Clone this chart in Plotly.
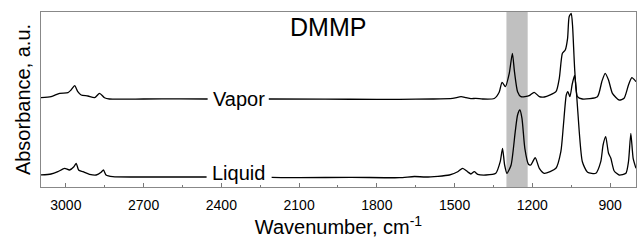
import plotly.graph_objects as go

# Wavenumbers (cm-1) and displayed absorbance (a.u., offset traces)
vapor_wn = [3100, 3057, 3024, 2992, 2980, 2966, 2954, 2941, 2915, 2889, 2870, 2851, 2832, 2700, 2560, 2453,
            None,
            2217, 2000, 1800, 1713, 1585, 1508, 1475, 1456, 1437, 1418, 1392, 1347, 1328, 1317, 1304, 1289,
            1277, 1269, 1257, 1244, 1212, 1193, 1173, 1154, 1109, 1096, 1084, 1073, 1064, 1058, 1050, 1045,
            1036, 1026, 1007, 949, 932, 919, 906, 891, 865, 846, 829, 816, 800]
vapor_abs = [0.893, 0.903, 0.937, 0.943, 0.97, 1.013, 0.953, 0.92, 0.91, 0.893, 0.937, 0.893, 0.88, 0.88, 0.882, 0.88,
             None,
             0.88, 0.878, 0.877, 0.877, 0.88, 0.887, 0.903, 0.893, 0.883, 0.887, 0.88, 0.885, 0.947, 1.047, 1.003, 1.137,
             1.337, 1.153, 0.953, 0.903, 0.913, 0.947, 0.903, 0.90, 0.953, 1.087, 1.337, 1.37, 1.487, 1.703, 1.737, 1.62,
             1.153, 0.903, 0.88, 0.903, 1.053, 1.137, 1.07, 0.937, 0.87, 0.887, 1.02, 1.093, 1.053]

liquid_wn = [3100, 3057, 3031, 3005, 2986, 2969, 2960, 2951, 2934, 2909, 2883, 2864, 2855, 2845, 2819, 2700, 2550, 2457,
             None,
             2206, 2100, 1900, 1713, 1655, 1610, 1520, 1488, 1469, 1450, 1437, 1424, 1411, 1379, 1341, 1324, 1315,
             1307, 1298, 1282, 1266, 1257, 1248, 1240, 1229, 1215, 1206, 1189, 1173, 1154, 1109, 1090, 1080, 1069,
             1063, 1055, 1046, 1037, 1030, 1019, 1007, 987, 955, 936, 927, 917, 906, 897, 884, 865, 839, 829, 820,
             811, 800]
liquid_abs = [0.12, 0.13, 0.153, 0.187, 0.17, 0.203, 0.237, 0.17, 0.153, 0.127, 0.12, 0.147, 0.17, 0.12, 0.103, 0.10, 0.10, 0.10,
              None,
              0.097, 0.093, 0.097, 0.093, 0.105, 0.100, 0.12, 0.153, 0.187, 0.153, 0.13, 0.153, 0.127, 0.12, 0.137, 0.253, 0.387,
              0.22, 0.137, 0.22, 0.553, 0.72, 0.77, 0.687, 0.387, 0.227, 0.22, 0.293, 0.187, 0.137, 0.187, 0.353, 0.62, 0.92,
              0.953, 0.903, 1.03, 1.115, 0.953, 0.553, 0.253, 0.147, 0.137, 0.253, 0.42, 0.503, 0.337, 0.287, 0.16, 0.12, 0.137, 0.253, 0.537,
              0.287, 0.187]

tick_vals = [3000, 2700, 2400, 2100, 1800, 1500, 1200, 900]
tick_text = ["3000", "2700", "2400", "2100", "1800", "1500", "1200", "900"]
minor_vals = [2850, 2550, 2250, 1950, 1650, 1350, 1050]
band_range = [1300, 1218]
series_names = ["Vapor", "Liquid"]
label_pos = [(2333, 0.885), (2333, 0.145)]

FONT = "Liberation Sans, Arial, sans-serif"

fig = go.Figure()
for wn, ab, name in [(vapor_wn, vapor_abs, "Vapor"), (liquid_wn, liquid_abs, "Liquid")]:
    fig.add_trace(go.Scatter(x=wn, y=ab, mode="lines", name=name,
                             line=dict(color="black", width=1.3, shape="spline", smoothing=0.6),
                             connectgaps=False, showlegend=False))

fig.add_vrect(x0=band_range[0], x1=band_range[1], fillcolor="#c0c0c0", opacity=1,
              line_width=0, layer="below")

for name, (x, y) in zip(series_names, label_pos):
    fig.add_annotation(x=x, y=y, text=name, showarrow=False, xanchor="center", yanchor="middle",
                       font=dict(family=FONT, size=20, color="black"))

fig.add_annotation(x=0.483, y=0.915, xref="paper", yref="paper", text="DMMP", showarrow=False,
                   xanchor="center", yanchor="middle", font=dict(family=FONT, size=25, color="black"))

fig.update_layout(
    width=637, height=241,
    margin=dict(l=41, r=1, t=12, b=54),
    plot_bgcolor="white", paper_bgcolor="white",
    font=dict(family=FONT, color="black"),
)
fig.update_xaxes(range=[3096, 800], tickvals=tick_vals, ticktext=tick_text,
                 ticks="inside", ticklen=4, tickcolor="#777", tickwidth=1,
                 minor=dict(tickvals=minor_vals, ticks="inside", ticklen=2, tickcolor="#777"),
                 showline=True, linecolor="#888", linewidth=1, mirror=True,
                 showgrid=False, zeroline=False, automargin=False,
                 ticklabelstandoff=5,
                 tickfont=dict(family=FONT, size=14, color="black"),
                 title=dict(text="Wavenumber, cm<sup>-1</sup>", font=dict(family=FONT, size=20, color="black"),
                            standoff=8))
fig.update_yaxes(range=[0, 1.75], showticklabels=False, ticks="",
                 showline=True, linecolor="#888", linewidth=1, mirror=True,
                 showgrid=False, zeroline=False, automargin=False,
                 title=dict(text="Absorbance, a.u.", font=dict(family=FONT, size=20, color="black"),
                            standoff=4))

# remove the browser's default 8px page margin so the figure fills the window exactly
fig.write_html("out.html", config={"displayModeBar": False},
               post_script="document.body.style.margin='0';document.body.style.overflow='hidden';")
